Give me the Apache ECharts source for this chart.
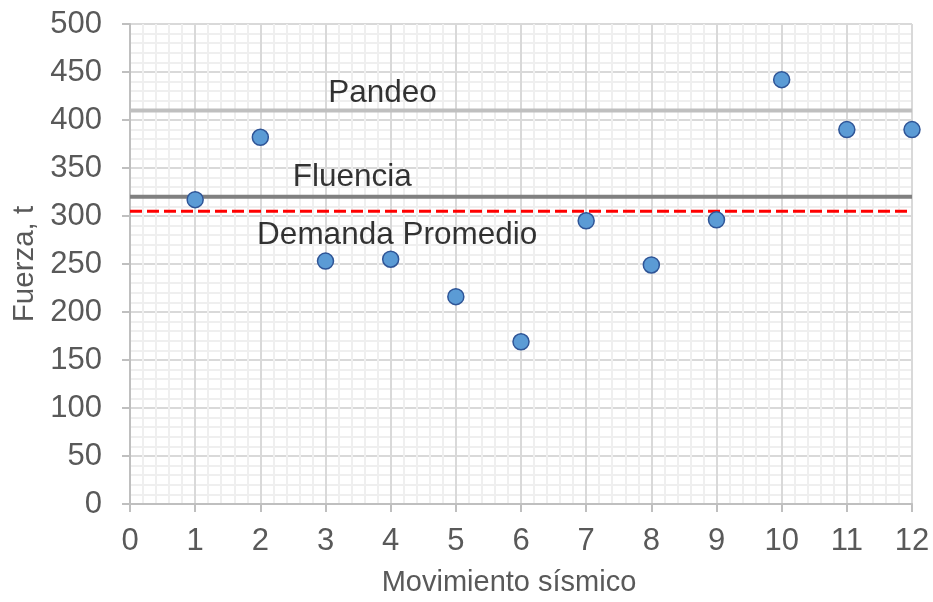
<!DOCTYPE html>
<html><head><meta charset="utf-8">
<script src="https://cdn.jsdelivr.net/npm/echarts@6/dist/echarts.min.js"></script>
<style>html,body{margin:0;padding:0;background:#fff}#c{width:933px;height:602px}</style>
</head><body><div id="c"></div>
<script>
const movimientos = [1,2,3,4,5,6,7,8,9,10,11,12];
const fuerzas = [317,382,253,255,216,169,295,249,296,442,390,390];
const pandeo = 410;
const fluencia = 320;
const demanda = 305;
const lineLabels = [
  {name:'Pandeo', x:3.875, y:410, pos:'top', dist:1},
  {name:'Fluencia', x:3.41, y:320, pos:'top', dist:3},
  {name:'Demanda Promedio', x:4.10, y:305, pos:'bottom', dist:8}
];
const font = 'Liberation Sans, Arial, sans-serif';
const chart = echarts.init(document.getElementById('c'));
function hline(v, color, width, type, z){
  return {type:'line', data:[[0,v],[12,v]], symbol:'none', silent:true, z:z,
    lineStyle:{color:color, width:width, type:type}};
}
chart.setOption({
  animation:false,
  grid:{left:130, right:21, top:24, bottom:97},
  xAxis:{type:'value', min:0, max:12, interval:1,
    name:'Movimiento sísmico', nameLocation:'middle', nameGap:64,
    nameTextStyle:{color:'#595959', fontSize:29, fontFamily:font, padding:[0,24,0,0]},
    axisLine:{show:true, lineStyle:{color:'#bfbfbf', width:2}},
    axisTick:{show:true, length:8, lineStyle:{color:'#bfbfbf', width:2}},
    axisLabel:{color:'#595959', fontSize:31, fontFamily:font, margin:22},
    splitLine:{show:true, lineStyle:{color:'#d9d9d9', width:2}},
    minorTick:{show:false, splitNumber:5},
    minorSplitLine:{show:true, lineStyle:{color:'#efefef', width:2}}
  },
  yAxis:{type:'value', min:0, max:500, interval:50,
    name:'Fuerza, t', nameLocation:'middle', nameGap:90,
    nameTextStyle:{color:'#595959', fontSize:29.5, fontFamily:font},
    axisLine:{show:true, lineStyle:{color:'#bfbfbf', width:2}},
    axisTick:{show:true, length:8, lineStyle:{color:'#bfbfbf', width:2}},
    axisLabel:{color:'#595959', fontSize:31, fontFamily:font, margin:28},
    splitLine:{show:true, lineStyle:{color:'#d9d9d9', width:2}},
    minorTick:{show:false, splitNumber:5},
    minorSplitLine:{show:true, lineStyle:{color:'#efefef', width:2}}
  },
  series:[
    hline(pandeo, '#bfbfbf', 4, 'solid', 2),
    hline(fluencia, '#808080', 4, 'solid', 2),
    hline(demanda, '#ff0000', 3, [12,5], 3),
    {type:'scatter', symbol:'circle', symbolSize:0, silent:true, z:4,
      data: lineLabels.map(l=>({value:[l.x,l.y], label:{show:true, formatter:l.name, position:l.pos, distance:l.dist, color:'#000000'}})),
      label:{color:'#000000', fontSize:31.5, fontFamily:font}
    },
    {type:'scatter', symbol:'circle', symbolSize:16, z:5,
      data: movimientos.map((m,i)=>[m, fuerzas[i]]),
      itemStyle:{color:'#5b9bd5', borderColor:'#2f5597', borderWidth:1.5, opacity:1}
    }
  ]
});
</script></body></html>
